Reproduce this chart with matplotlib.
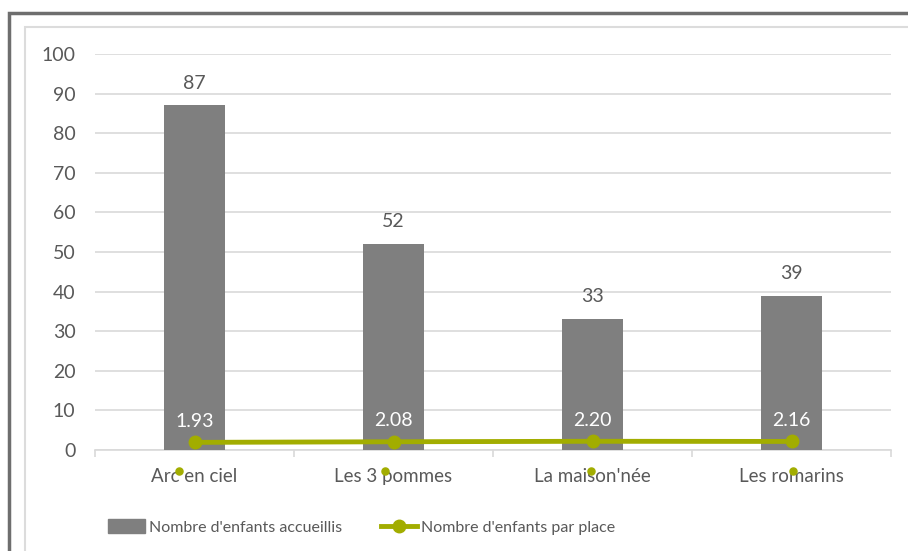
import matplotlib.pyplot as plt
from matplotlib.patches import Rectangle
from matplotlib.lines import Line2D
import matplotlib.transforms as mtransforms

categories = ["Arc en ciel", "Les 3 pommes", "La maison'née", "Les romarins"]
enfants_accueillis = [87, 52, 33, 39]
enfants_par_place = [1.93, 2.08, 2.20, 2.16]
place_labels = ["1.93", "2.08", "2.20", "2.16"]
y_ticks = [0, 10, 20, 30, 40, 50, 60, 70, 80, 90, 100]
dot_shift = [-0.08, -0.045, -0.01, 0.01]

BAR = "#7f7f7f"
GREEN = "#a2ad00"
TEXT = "#595959"
GRID = "#d9d9d9"

plt.rcParams["font.family"] = ["Lato", "DejaVu Sans"]

fig = plt.figure(figsize=(9.08, 5.51), dpi=100)

# outer frames
fig.patches.append(Rectangle((9 / 908, -0.1), 1.1, (551 - 13) / 551 + 0.1,
                             transform=fig.transFigure, fill=False,
                             edgecolor="#6e6e6e", linewidth=2.5))
fig.patches.append(Rectangle((25 / 908, -0.1), 1.1, (551 - 27) / 551 + 0.1,
                             transform=fig.transFigure, fill=False,
                             edgecolor="#dcdcdc", linewidth=1.5))

ax = fig.add_axes([95 / 908, 101 / 551, (891 - 95) / 908, (450 - 54) / 551])
x = list(range(len(categories)))

ax.bar(x, enfants_accueillis, width=0.31, color=BAR, zorder=2)
for xi, v in zip(x, enfants_accueillis):
    ax.annotate(str(v), (xi, v), xytext=(0, 10), textcoords="offset points",
                ha="center", va="bottom", fontsize=14, color=TEXT)

ax.plot(x, enfants_par_place, color=GREEN, linewidth=3.5, marker="o",
        markersize=9, zorder=3)
for xi, v, lab in zip(x, enfants_par_place, place_labels):
    ax.annotate(lab, (xi, v), xytext=(0, 9), textcoords="offset points",
                ha="center", va="bottom", fontsize=14, color="white", zorder=4)

# small green dots under the category labels
dot_tr = ax.get_xaxis_transform() + mtransforms.ScaledTranslation(0, -15 / 72, fig.dpi_scale_trans)
ax.scatter([xi + d for xi, d in zip(x, dot_shift)], [0] * len(x),
           transform=dot_tr, s=26, color=GREEN, clip_on=False, zorder=5)

ax.set_xlim(-0.5, len(categories) - 0.5)
ax.set_ylim(0, 100)
ax.set_yticks(y_ticks)
ax.set_yticklabels([str(t) for t in y_ticks], fontsize=14, color=TEXT)
ax.set_xticks(x)
ax.set_xticklabels(categories, fontsize=13.5, color=TEXT)
ax.tick_params(axis="y", length=0, pad=14)
ax.tick_params(axis="x", length=0, pad=13)
ax.set_xticks([-0.5, 0.5, 1.5, 2.5, 3.5], minor=True)
ax.tick_params(axis="x", which="minor", length=5, color=GRID, width=1.2)

ax.grid(axis="y", color=GRID, linewidth=1.2, zorder=0)
for side in ["top", "right", "left"]:
    ax.spines[side].set_visible(False)
ax.spines["bottom"].set_color(GRID)
ax.spines["bottom"].set_linewidth(1.2)
ax.spines["bottom"].set_zorder(1)

handles = [Rectangle((0, 0), 1, 1, color=BAR),
           Line2D([], [], color=GREEN, linewidth=3.5, marker="o", markersize=9)]
fig.legend(handles, ["Nombre d'enfants accueillis", "Nombre d'enfants par place"],
           loc="center", bbox_to_anchor=(362 / 908, 1 - 527 / 551), ncol=2,
           frameon=False, fontsize=11.5, labelcolor=TEXT, handlelength=2.3,
           handleheight=0.9, handletextpad=0.25, columnspacing=2.4)

fig.savefig("out.png", dpi=100)
